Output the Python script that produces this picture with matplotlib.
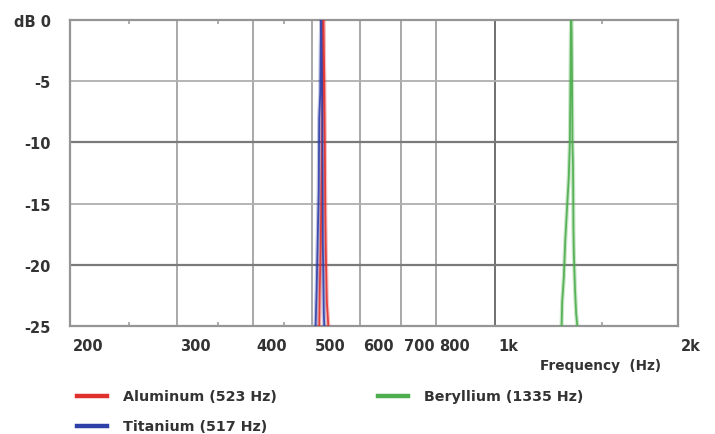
import numpy as np
import matplotlib
matplotlib.use("Agg")
import matplotlib.pyplot as plt
import matplotlib.transforms as mtransforms
from matplotlib.lines import Line2D
from matplotlib.ticker import NullFormatter

# frequency responses (Hz, dB)
al_freq = [514, 515, 517, 519, 521, 522, 523, 524, 525, 526, 527, 529, 532]
al_db = [-25, -22, -18, -12, -5, 0, -2, -5, -10, -16, -19, -23, -25]

ti_freq = [507, 509, 510, 513, 514, 516, 517, 518, 519, 520, 520.5, 521, 522, 523, 524]
ti_db = [-25, -22, -20, -14, -8, -6, -2, 0, -3, -8, -12, -18, -21, -24, -25]

be_freq = [1287, 1290, 1298, 1305, 1315, 1322, 1328, 1331, 1333, 1335,
           1337, 1339, 1341, 1344, 1346, 1348, 1354, 1360, 1366]
be_db = [-25, -23, -21, -18, -15, -13, -10, -5, -1, 0,
         -1, -5, -10, -12, -17, -19, -22, -24, -25]

x_ticks = [200, 300, 400, 500, 600, 700, 800, 1000, 2000]
x_labels = ["200", "300", "400", "500", "600", "700", "800", "1k", "2k"]
x_minor = [250, 350, 450, 1500]
y_ticks = [0, -5, -10, -15, -20, -25]
y_labels = ["dB 0", "-5", "-10", "-15", "-20", "-25"]

series = [
    ("Aluminum (523 Hz)", al_freq, al_db, "#e0302c"),
    ("Titanium (517 Hz)", ti_freq, ti_db, "#2f3fa8"),
    ("Beryllium (1335 Hz)", be_freq, be_db, "#4cae4c"),
]

plt.rcParams["font.family"] = "DejaVu Sans"
fig = plt.figure(figsize=(7.15, 4.35), dpi=100)
ax = fig.add_axes([70 / 715, 1 - 327 / 435, 608 / 715, 306 / 435])

ax.set_xscale("log")
ax.set_xlim(200, 2000)
ax.set_ylim(-25, 0)

# grid lines
for f in x_ticks[1:-1]:
    c = "#707070" if f == 1000 else "#a8a8a8"
    ax.axvline(f, color=c, lw=1.4, zorder=1)
for v in y_ticks[1:-1]:
    c = "#7a7a7a" if v in (-10, -20) else "#b0b0b0"
    ax.axhline(v, color=c, lw=1.6 if v in (-10, -20) else 1.3, zorder=1)

for name, fr, db, col in series:
    ax.plot(fr, db, color=col, lw=3.0, alpha=0.3, zorder=3)
    ax.plot(fr, db, color=col, lw=1.3, alpha=0.9, zorder=4)

for s in ax.spines.values():
    s.set_color("#959595")
    s.set_linewidth(1.6)

ax.set_xticks(x_ticks)
ax.set_xticklabels(x_labels)
ax.set_xticks(x_minor, minor=True)
ax.xaxis.set_minor_formatter(NullFormatter())
ax.tick_params(axis="x", which="major", length=0, pad=9, labelsize=10.5,
               labelcolor="#333333")
ax.tick_params(axis="x", which="minor", direction="in", length=3, width=1.2,
               color="#a0a0a0", top=True, bottom=True)
offset = mtransforms.ScaledTranslation(3 / 100, 0, fig.dpi_scale_trans)
for lab in ax.get_xticklabels():
    lab.set_horizontalalignment("left")
    lab.set_transform(lab.get_transform() + offset)
    lab.set_fontweight("bold")

ax.set_yticks(y_ticks)
ax.set_yticklabels(y_labels)
ax.tick_params(axis="y", length=0, pad=14, labelsize=10.5, labelcolor="#333333")
for lab in ax.get_yticklabels():
    lab.set_fontweight("bold")

fig.text(540 / 715, 1 - 366 / 435, "Frequency  (Hz)", fontsize=9.8,
         color="#333333", va="center", ha="left", fontweight="bold")

# legend drawn by hand
leg_pos = [(77, 397), (77, 427), (378, 397)]
for (name, fr, db, col), (lx, ly) in zip(series, leg_pos):
    fig.add_artist(Line2D([lx / 715, (lx + 30) / 715], [1 - ly / 435] * 2,
                          color=col, lw=3.2, transform=fig.transFigure))
    fig.text((lx + 46) / 715, 1 - ly / 435, name, fontsize=10.3,
             color="#333333", va="center", ha="left", fontweight="bold")

fig.savefig("out.png", dpi=100)
